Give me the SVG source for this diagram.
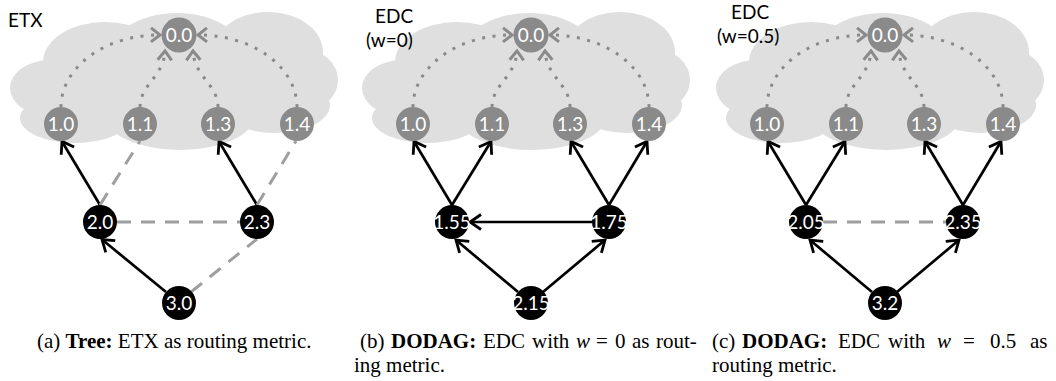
<svg xmlns="http://www.w3.org/2000/svg" width="1056" height="381" viewBox="0 0 1056 381">
<style>
.cloud ellipse{fill:#dfdfdf}
.gn{fill:#8a8a8a}
.bn{fill:#000}
.nt{font-family:Lato,"Open Sans",sans-serif;font-size:19px;fill:#fff;text-anchor:middle}
.lbl{font-family:Lato,"Open Sans",sans-serif;font-size:19px;fill:#000}
.dot{fill:none;stroke:#8a8a8a;stroke-width:3;stroke-dasharray:3 7.5;marker-end:url(#gh)}
.sol{fill:none;stroke:#000;stroke-width:2.7;marker-end:url(#ah)}
.dsh{fill:none;stroke:#9e9e9e;stroke-width:3;stroke-dasharray:14 10}
.cap{font-family:"Liberation Serif","Times New Roman",serif;font-size:21px;fill:#000}
</style>
<defs>
<marker id="ah" viewBox="-14 -9 16 18" markerWidth="16" markerHeight="18" refX="0" refY="0" orient="auto" markerUnits="userSpaceOnUse" overflow="visible">
<path d="M-11,-7.5 L0,0 L-11,7.5" fill="none" stroke="#000" stroke-width="2.8"/>
</marker>
<marker id="gh" viewBox="-12 -9 14 18" markerWidth="14" markerHeight="18" refX="0" refY="0" orient="auto" markerUnits="userSpaceOnUse" overflow="visible">
<path d="M-9,-7 L0,0 L-9,7" fill="none" stroke="#8a8a8a" stroke-width="3"/>
</marker>
<g id="cloud" class="cloud">
<ellipse cx="175" cy="85" rx="140" ry="40"/>
<ellipse cx="177" cy="60" rx="70" ry="47"/>
<ellipse cx="268" cy="52" rx="55" ry="40"/>
<ellipse cx="105" cy="62" rx="62" ry="40"/>
<ellipse cx="50" cy="88" rx="40" ry="28"/>
<ellipse cx="75" cy="118" rx="55" ry="25"/>
<ellipse cx="180" cy="115" rx="75" ry="35"/>
<ellipse cx="275" cy="105" rx="55" ry="28"/>
<ellipse cx="305" cy="80" rx="33" ry="30"/>
</g>
</defs>

<g id="clouds">
<use href="#cloud"/>
<use href="#cloud" transform="translate(352,0)"/>
<use href="#cloud" transform="translate(706,0)"/>
</g>

<g id="labels">
<text class="lbl" x="8" y="27">ETX</text>
<text class="lbl" x="375" y="23">EDC</text>
<text class="lbl" x="366" y="47">(w=0)</text>
<text class="lbl" x="731" y="19">EDC</text>
<text class="lbl" x="717" y="43">(w=0.5)</text>
</g>

<g id="connectors">
<g id="conn-a">
<path class="dot" d="M61,107 A98,72 0 0 1 160,35"/>
<path class="dot" d="M140,107 C140,85 164,76 165,51"/>
<path class="dot" d="M218,107 C218,85 194,76 193,51"/>
<path class="dot" d="M297,107 A98,72 0 0 0 198,35"/>
<path class="sol" d="M100,205 L62,141.5"/>
<path class="dsh" d="M100,205 L140,141"/>
<path class="sol" d="M257,205 L219,141.5"/>
<path class="dsh" d="M257,205 L296,141"/>
<path class="dsh" d="M117,222 L240,222"/>
<path class="sol" d="M166,292 L102,239.5"/>
<path class="dsh" d="M191,292 L257,239"/>
</g>
<g id="conn-b" transform="translate(352,0)">
<path class="dot" d="M61,107 A98,72 0 0 1 160,35"/>
<path class="dot" d="M140,107 C140,85 164,76 165,51"/>
<path class="dot" d="M218,107 C218,85 194,76 193,51"/>
<path class="dot" d="M297,107 A98,72 0 0 0 198,35"/>
<path class="sol" d="M100,205 L62,141.5"/>
<path class="sol" d="M100,205 L139,141.5"/>
<path class="sol" d="M257,205 L219,141.5"/>
<path class="sol" d="M257,205 L295,141.5"/>
<path class="sol" d="M240,222 L118,222"/>
<path class="sol" d="M166,292 L104,240"/>
<path class="sol" d="M191,292 L253,240"/>
</g>
<g id="conn-c" transform="translate(706,0)">
<path class="dot" d="M61,107 A98,72 0 0 1 160,35"/>
<path class="dot" d="M140,107 C140,85 164,76 165,51"/>
<path class="dot" d="M218,107 C218,85 194,76 193,51"/>
<path class="dot" d="M297,107 A98,72 0 0 0 198,35"/>
<path class="sol" d="M100,205 L62,141.5"/>
<path class="sol" d="M100,205 L139,141.5"/>
<path class="sol" d="M257,205 L219,141.5"/>
<path class="sol" d="M257,205 L295,141.5"/>
<path class="dsh" d="M117,222 L240,222"/>
<path class="sol" d="M166,292 L104,240"/>
<path class="sol" d="M191,292 L253,240"/>
</g>
</g>

<g id="nodes-a">
<g id="a-n00"><circle class="gn" cx="179" cy="35" r="17.5"/><text class="nt" x="179" y="42">0.0</text></g>
<g id="a-n10"><circle class="gn" cx="61" cy="124" r="17"/><text class="nt" x="61" y="131">1.0</text></g>
<g id="a-n11"><circle class="gn" cx="140" cy="124" r="17"/><text class="nt" x="140" y="131">1.1</text></g>
<g id="a-n13"><circle class="gn" cx="218" cy="124" r="17"/><text class="nt" x="218" y="131">1.3</text></g>
<g id="a-n14"><circle class="gn" cx="297" cy="124" r="17"/><text class="nt" x="297" y="131">1.4</text></g>
<g id="a-n20"><circle class="bn" cx="100" cy="222" r="17"/><text class="nt" x="100" y="229">2.0</text></g>
<g id="a-n23"><circle class="bn" cx="257" cy="222" r="17"/><text class="nt" x="257" y="229">2.3</text></g>
<g id="a-n30"><circle class="bn" cx="179" cy="303" r="17"/><text class="nt" x="179" y="310">3.0</text></g>
</g>

<g id="nodes-b" transform="translate(352,0)">
<g id="b-n00"><circle class="gn" cx="179" cy="35" r="17.5"/><text class="nt" x="179" y="42">0.0</text></g>
<g id="b-n10"><circle class="gn" cx="61" cy="124" r="17"/><text class="nt" x="61" y="131">1.0</text></g>
<g id="b-n11"><circle class="gn" cx="140" cy="124" r="17"/><text class="nt" x="140" y="131">1.1</text></g>
<g id="b-n13"><circle class="gn" cx="218" cy="124" r="17"/><text class="nt" x="218" y="131">1.3</text></g>
<g id="b-n14"><circle class="gn" cx="297" cy="124" r="17"/><text class="nt" x="297" y="131">1.4</text></g>
<g id="b-n155"><circle class="bn" cx="100" cy="222" r="17"/><text class="nt" x="100" y="229">1.55</text></g>
<g id="b-n175"><circle class="bn" cx="257" cy="222" r="17"/><text class="nt" x="257" y="229">1.75</text></g>
<g id="b-n215"><circle class="bn" cx="179" cy="303" r="17"/><text class="nt" x="179" y="310">2.15</text></g>
</g>

<g id="nodes-c" transform="translate(706,0)">
<g id="c-n00"><circle class="gn" cx="179" cy="35" r="17.5"/><text class="nt" x="179" y="42">0.0</text></g>
<g id="c-n10"><circle class="gn" cx="61" cy="124" r="17"/><text class="nt" x="61" y="131">1.0</text></g>
<g id="c-n11"><circle class="gn" cx="140" cy="124" r="17"/><text class="nt" x="140" y="131">1.1</text></g>
<g id="c-n13"><circle class="gn" cx="218" cy="124" r="17"/><text class="nt" x="218" y="131">1.3</text></g>
<g id="c-n14"><circle class="gn" cx="297" cy="124" r="17"/><text class="nt" x="297" y="131">1.4</text></g>
<g id="c-n205"><circle class="bn" cx="100" cy="222" r="17"/><text class="nt" x="100" y="229">2.05</text></g>
<g id="c-n235"><circle class="bn" cx="257" cy="222" r="17"/><text class="nt" x="257" y="229">2.35</text></g>
<g id="c-n32"><circle class="bn" cx="179" cy="303" r="17"/><text class="nt" x="179" y="310">3.2</text></g>
</g>

<g id="captions">
<text class="cap" x="37" y="348">(a) <tspan font-weight="bold">Tree:</tspan> ETX as routing metric.</text>
<text class="cap" y="348"><tspan x="360">(b)</tspan><tspan x="391" font-weight="bold">DODAG:</tspan><tspan x="483">EDC</tspan><tspan x="532">with</tspan><tspan x="576" font-style="italic">w</tspan><tspan x="596">=</tspan><tspan x="615">0</tspan><tspan x="632">as</tspan><tspan x="656">rout-</tspan></text>
<text class="cap" x="354" y="372">ing metric.</text>
<text class="cap" y="348"><tspan x="712">(c)</tspan><tspan x="742" font-weight="bold">DODAG:</tspan><tspan x="838">EDC</tspan><tspan x="888">with</tspan><tspan x="937" font-style="italic">w</tspan><tspan x="963">=</tspan><tspan x="990">0.5</tspan><tspan x="1030">as</tspan></text>
<text class="cap" x="712" y="372">routing metric.</text>
</g>
</svg>
